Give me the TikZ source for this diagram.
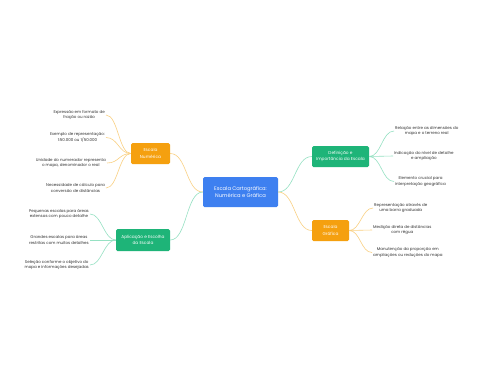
\documentclass[tikz,border=0pt]{standalone}
\usepackage{fontspec}
\setmainfont{Poppins}
\definecolor{cblue}{RGB}{62,128,240}
\definecolor{cgreen}{RGB}{30,180,120}
\definecolor{corange}{RGB}{245,160,15}
\definecolor{lgreen}{RGB}{150,225,195}
\definecolor{lorange}{RGB}{250,208,130}
\definecolor{ltext}{RGB}{50,50,50}
\begin{document}
\begin{tikzpicture}[x=1pt,y=-1pt,
  box/.style={rounded corners=1.5pt,text=white,align=center,inner sep=0pt,
    font=\fontsize{4.3}{6.2}\selectfont},
  leaf/.style={align=center,text=ltext,inner sep=1pt,font=\fontsize{4}{5.9}\selectfont},
  gl/.style={draw=lgreen,line width=0.6pt},
  ol/.style={draw=lorange,line width=0.6pt}]
\useasboundingbox[fill=white] (0,0) rectangle (480,384);
% main nodes
\node[box,fill=cblue,minimum width=75pt,minimum height=30pt,font=\fontsize{5.2}{7.4}\selectfont] (c) at (240.5,192) {Escala Cartográfica:\\Numérica e Gráfica};
\node[box,fill=corange,minimum width=39pt,minimum height=21pt] (n) at (150.5,153.5) {Escala\\Numérica};
\node[box,fill=cgreen,minimum width=54pt,minimum height=22pt] (a) at (143,240) {Aplicação e Escolha\\da Escala};
\node[box,fill=cgreen,minimum width=57pt,minimum height=21pt] (d) at (340.5,156.5) {Definição e\\Importância da Escala};
\node[box,fill=corange,minimum width=37pt,minimum height=21pt] (g) at (330.5,230.5) {Escala\\Gráfica};
% leaves left numerica
\node[leaf,anchor=east] (n1) at (106,115) {Expressão em formato de\\fração ou razão};
\node[leaf,anchor=east] (n2) at (106,137.5) {Exemplo de representação:\\1:50.000 ou 1/50.000};
\node[leaf,anchor=east] (n3) at (107,163) {Unidade do numerador representa\\o mapa, denominador o real};
\node[leaf,anchor=east] (n4) at (106,188) {Necessidade de cálculo para\\conversão de distâncias};
% leaves left aplicacao
\node[leaf,anchor=east] (a1) at (90,214) {Pequenas escalas para áreas\\extensas com pouco detalhe};
\node[leaf,anchor=east] (a2) at (90,240) {Grandes escalas para áreas\\restritas com muitos detalhes};
\node[leaf,anchor=east] (a3) at (90,265) {Seleção conforme o objetivo do\\mapa e informações desejadas};
% leaves right definicao
\node[leaf,anchor=west] (d1) at (394,131) {Relação entre as dimensões do\\mapa e o terreno real};
\node[leaf,anchor=west] (d2) at (393,156) {Indicação do nível de detalhe\\e ampliação};
\node[leaf,anchor=west] (d3) at (394,181.5) {Elemento crucial para\\interpretação geográfica};
% leaves right grafica
\node[leaf,anchor=west] (g1) at (373,208) {Representação através de\\uma barra graduada};
\node[leaf,anchor=west] (g2) at (372,230) {Medição direta de distâncias\\com régua};
\node[leaf,anchor=west] (g3) at (372,252.5) {Manutenção da proporção em\\ampliações ou reduções do mapa};
% connectors main
\draw[ol] (c.west) .. controls +(-17,0) and +(17,0) .. (n.east);
\draw[gl] (c.west) .. controls +(-17,0) and +(17,0) .. (a.east);
\draw[gl] (c.east) .. controls +(17,0) and +(-17,0) .. (d.west);
\draw[ol] (c.east) .. controls +(17,0) and +(-17,0) .. (g.west);
% connectors leaves
\foreach \k in {n1,n2,n3,n4}{\draw[ol] (n.west) .. controls +(-12,0) and +(12,0) .. (\k.east);}
\foreach \k in {a1,a2,a3}{\draw[gl] (a.west) .. controls +(-12,0) and +(12,0) .. (\k.east);}
\foreach \k in {d1,d2,d3}{\draw[gl] (d.east) .. controls +(12,0) and +(-12,0) .. (\k.west);}
\foreach \k in {g1,g2,g3}{\draw[ol] (g.east) .. controls +(11,0) and +(-11,0) .. (\k.west);}
\end{tikzpicture}
\end{document}
